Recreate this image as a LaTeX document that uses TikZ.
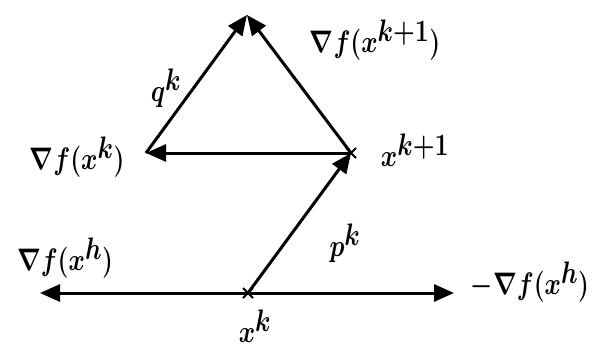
\documentclass[tikz,border=0pt]{standalone}
\usepackage{graphicx}
\usetikzlibrary{arrows.meta}
\newcommand{\hand}[1]{\scalebox{1}[1.25]{\boldmath$#1$}}
\begin{document}
\begin{tikzpicture}[x=1pt,y=-1pt, line width=3pt,
  vec/.style={-{Triangle[length=20pt,width=17pt]}},
  lbl/.style={font=\fontsize{45}{52}\selectfont, inner sep=0pt},
  crossmark/.style={line width=1.8pt}]
\useasboundingbox (0,0) rectangle (605,351);
\coordinate (xk) at (248,293);
\coordinate (xk1) at (351,153);
\coordinate (apex) at (247,15);
\coordinate (gk) at (146,153);
\coordinate (bl) at (40,293);
\coordinate (br) at (454,293);
\draw[vec] (gk) -- (apex);
\draw[vec] (xk1) -- (apex);
\draw[vec] (xk1) -- (gk);
\draw[vec] (xk) -- (xk1);
\draw[vec] (xk) -- (bl);
\draw[vec] (xk) -- (br);
\draw[crossmark] ([shift={(-5,-5)}]xk) -- ([shift={(5,5)}]xk);
\draw[crossmark] ([shift={(-5,5)}]xk) -- ([shift={(5,-5)}]xk);
\draw[crossmark] ([shift={(-5,-5)}]xk1) -- ([shift={(5,5)}]xk1);
\draw[crossmark] ([shift={(-5,5)}]xk1) -- ([shift={(5,-5)}]xk1);
\node[lbl] (lgk1) at (375,40) {\hand{\nabla f(x^{k+1})}};
\node[lbl] (lqk) at (166,88) {\hand{q^k}};
\node[lbl] (lgk) at (77,157) {\hand{\nabla f(x^k)}};
\node[lbl] (lxk1) at (415,150) {\hand{x^{k+1}}};
\node[lbl] (lpk) at (345,243) {\hand{p^k}};
\node[lbl] (lgl) at (65,258) {\hand{\nabla f(x^h)}};
\node[lbl] (lgr) at (530,282) {\hand{-\nabla f(x^h)}};
\node[lbl] (lxk) at (255,326) {\hand{x^k}};
\end{tikzpicture}
\end{document}
